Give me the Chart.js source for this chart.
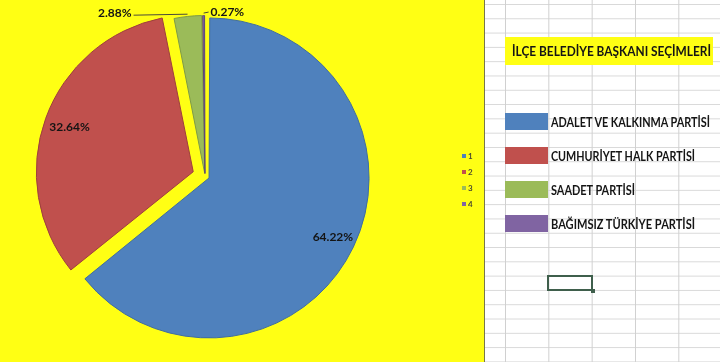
<!DOCTYPE html>
<html>
<head>
<meta charset="utf-8">
<script src="https://cdn.jsdelivr.net/npm/chart.js@4.4.1/dist/chart.umd.min.js"></script>
<style>
  body { margin: 0; width: 720px; height: 362px; overflow: hidden; position: relative; background: #fff; font-family: Lato, "Open Sans", sans-serif; }
  #sheet { position: absolute; left: 485px; top: 0; width: 235px; height: 362px;
    background-image: linear-gradient(to right, #d0d0d0 1px, transparent 1px), linear-gradient(to bottom, #d8d8d8 1px, transparent 1px);
    background-size: 43.33px 14.3px; background-position: 20px 4px; }
  #yellow { position: absolute; left: 0; top: 0; width: 484px; height: 362px; background: #ffff14; border-right: 1px solid #77774a; }
  #pieBox { position: absolute; left: 0; top: 0; width: 410px; height: 352px; }
  #panel { position: absolute; left: 0; top: 0; }
  #panel text { font-family: Lato, "Open Sans", sans-serif; font-weight: bold; fill: #151515; }
  .mini { position: absolute; left: 462px; font-size: 8px; font-weight: bold; color: #4a4a30; line-height: 10px; }
  .mini span { display: inline-block; width: 4px; height: 4px; margin-right: 2px; vertical-align: 1px; }
  #cell { position: absolute; left: 547px; top: 275px; width: 42px; height: 12px; border: 2px solid #3f5f4c; }
  #cell i { position: absolute; right: -4px; bottom: -4px; width: 4px; height: 4px; background: #3f5f4c; }
</style>
</head>
<body>
<div id="sheet"></div>
<div id="yellow"></div>
<div id="pieBox"><canvas id="pieCanvas"></canvas></div>
<svg id="panel" width="720" height="362" xmlns="http://www.w3.org/2000/svg">
  <rect x="505" y="37" width="208" height="28" fill="#ffff14"></rect>
  <text x="512" y="56" font-size="14" textLength="199" lengthAdjust="spacingAndGlyphs">İLÇE BELEDİYE BAŞKANI SEÇİMLERİ</text>
</svg>
<div id="cell"><i></i></div>
<script>
// values
const partyNames = ['ADALET VE KALKINMA PARTİSİ', 'CUMHURİYET HALK PARTİSİ', 'SAADET PARTİSİ', 'BAĞIMSIZ TÜRKİYE PARTİSİ'];
const sliceLabels = ['1', '2', '3', '4'];
const voteShares = [64.22, 32.64, 2.88, 0.27];

const sliceColors = ['#4f81bd', '#c0504d', '#9bbb59', '#8064a2'];
const sliceBorders = ['#3f6d9f', '#9e3f3c', '#7d9a46', '#5a4478'];
const sliceOffsets = [18, 50, 11, 10];
// widths of the calibri text in the shot, no calibri here so the svg stretches to them
const keyTextWidths = [159, 144, 84, 144];

// legend on the sheet side (excel shapes)
const svgNS = 'http://www.w3.org/2000/svg';
const panel = document.getElementById('panel');
partyNames.forEach(function(name, i) {
    const top = 113 + i * 34;
    const box = document.createElementNS(svgNS, 'rect');
    box.setAttribute('x', 505);
    box.setAttribute('y', top);
    box.setAttribute('width', 43);
    box.setAttribute('height', 17);
    box.setAttribute('fill', sliceColors[i]);
    panel.appendChild(box);
    const txt = document.createElementNS(svgNS, 'text');
    txt.setAttribute('x', 551);
    txt.setAttribute('y', top + 14);
    txt.setAttribute('font-size', 12.5);
    txt.setAttribute('textLength', keyTextWidths[i]);
    txt.setAttribute('lengthAdjust', 'spacingAndGlyphs');
    txt.textContent = name;
    panel.appendChild(txt);
});

// the little default excel legend 1..4
sliceLabels.forEach(function(lab, i) {
    const m = document.createElement('div');
    m.className = 'mini';
    m.style.top = (151 + i * 16) + 'px';
    m.innerHTML = '<span style="background:' + sliceColors[i] + '"></span>' + lab;
    document.body.appendChild(m);
});

// draws the percentages, with leader lines for the thin slices
const percentLabels = {
    id: 'percentLabels',
    afterDatasetsDraw(chart) {
        const ctx = chart.ctx;
        const meta = chart.getDatasetMeta(0);
        ctx.save();
        ctx.font = 'bold 12px Lato';
        ctx.fillStyle = '#141414';
        ctx.strokeStyle = '#4a4a3a';
        ctx.lineWidth = 1;
        ctx.textBaseline = 'middle';
        meta.data.forEach(function(arc, i) {
            const p = arc.getProps(['x', 'y', 'startAngle', 'endAngle', 'outerRadius', 'circumference']);
            const mid = (p.startAngle + p.endAngle) / 2;
            const off = (arc.options.offset || 0) / 4;
            const fix = 1 - Math.sin(Math.min(Math.PI, p.circumference));
            const shift = off * (1 + fix);
            const cx = p.x + Math.cos(mid) * shift;
            const cy = p.y + Math.sin(mid) * shift;
            const r = p.outerRadius + off * fix;
            const text = voteShares[i].toFixed(2) + '%';
            if (p.circumference > 0.5) {
                ctx.textAlign = 'center';
                ctx.fillText(text, cx + Math.cos(mid) * r * 0.83, cy + Math.sin(mid) * r * 0.83);
                return;
            }
            const ex = cx + Math.cos(mid) * r;
            const ey = cy + Math.sin(mid) * r;
            ctx.beginPath();
            if (i == 2) {
                ctx.moveTo(ex, ey);
                ctx.lineTo(ex - 54, ey + 1);
                ctx.stroke();
                ctx.textAlign = 'right';
                ctx.fillText(text, ex - 56, ey - 1);
            } else {
                ctx.moveTo(ex, ey);
                ctx.lineTo(ex + 5, ey - 1);
                ctx.stroke();
                ctx.textAlign = 'left';
                ctx.fillText(text, ex + 7, ey - 1);
            }
        });
        ctx.restore();
    }
};

document.addEventListener('DOMContentLoaded', function() {
    const ctx = document.getElementById('pieCanvas').getContext('2d');
    new Chart(ctx, {
        type: 'pie',
        data: {
            labels: sliceLabels,
            datasets: [{
                data: voteShares,
                backgroundColor: sliceColors,
                borderColor: sliceBorders,
                borderWidth: 1,
                offset: sliceOffsets
            }]
        },
        options: {
            responsive: true,
            maintainAspectRatio: false,
            animation: false,
            events: [],
            radius: 155.5,
            layout: { padding: 0 },
            plugins: {
                legend: { display: false },
                tooltip: { enabled: false }
            }
        },
        plugins: [percentLabels]
    });
});
</script>
</body>
</html>
